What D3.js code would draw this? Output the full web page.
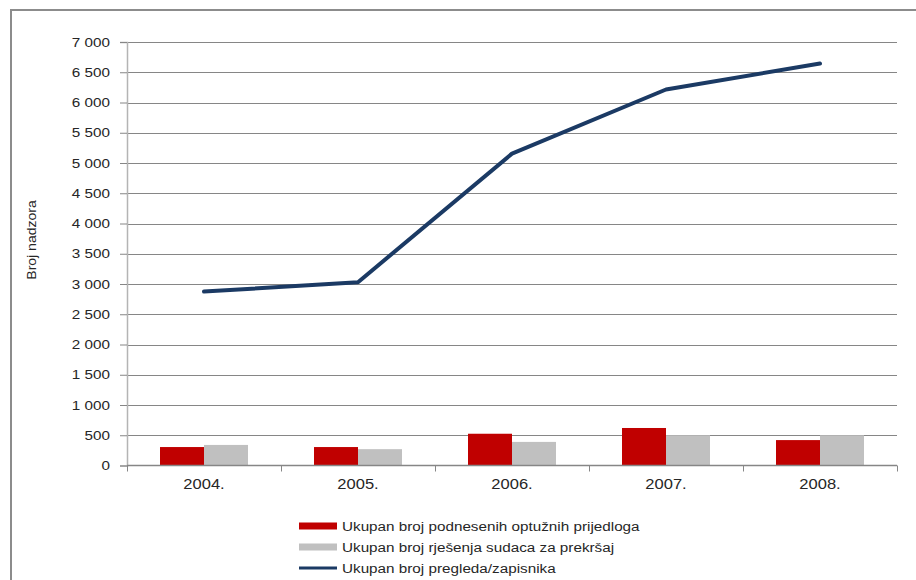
<!DOCTYPE html>
<html>
<head>
<meta charset="utf-8">
<script src="https://cdn.jsdelivr.net/npm/d3@7"></script>
<style>
  html, body { margin: 0; padding: 0; background: #fff; }
  svg { display: block; }
  text { font-family: "Liberation Sans", Arial, sans-serif; fill: #262626; }
</style>
</head>
<body>
<svg id="chart" width="916" height="580"></svg>
<script>
// ---- data ----
const categories = ["2004.", "2005.", "2006.", "2007.", "2008."];
const optuzniPrijedlozi = [305, 305, 525, 620, 420];
const rjesenjaSudaca = [340, 270, 390, 500, 500];
const preglediZapisnici = [2875, 3030, 5155, 6215, 6645];
const yTicks = [0, 500, 1000, 1500, 2000, 2500, 3000, 3500, 4000, 4500, 5000, 5500, 6000, 6500, 7000];
const seriesNames = [
  "Ukupan broj podnesenih optužnih prijedloga",
  "Ukupan broj rješenja sudaca za prekršaj",
  "Ukupan broj pregleda/zapisnika"
];
const yTitle = "Broj nadzora";

// ---- layout ----
const svg = d3.select("#chart");
const plotLeft = 127, plotRight = 897, plotTop = 42, plotBottom = 465.5;
const colors = { red: "#C00000", gray: "#C0C0C0", navy: "#1B3A64", grid: "#868686" };

const x = d3.scaleBand().domain(categories).range([plotLeft, plotRight]).paddingInner(0.4286).paddingOuter(0.2143);
const xSub = d3.scaleBand().domain(["a", "b"]).range([0, x.bandwidth()]);
const y = d3.scaleLinear().domain([0, 7000]).range([plotBottom, plotTop]);

const fmt = d3.formatLocale({ decimal: ",", thousands: " ", grouping: [3], currency: ["", ""] }).format(",d");

// stretch helper: scale text horizontally by a factor
function stretch(sel, factor) {
  sel.each(function () {
    const w = this.getComputedTextLength();
    this.setAttribute("textLength", (w * factor).toFixed(2));
    this.setAttribute("lengthAdjust", "spacingAndGlyphs");
  });
}

// outer frame
svg.append("path")
  .attr("d", "M11,580 L11,10 L916,10")
  .attr("fill", "none").attr("stroke", "#8c8c8c").attr("stroke-width", 2);

// gridlines
svg.append("g").selectAll("line").data(yTicks.filter(d => d > 0)).join("line")
  .attr("x1", plotLeft).attr("x2", plotRight)
  .attr("y1", d => Math.round(y(d)) + 0.5).attr("y2", d => Math.round(y(d)) + 0.5)
  .attr("stroke", colors.grid).attr("stroke-width", 1);

// y axis
const yAxis = svg.append("g").attr("transform", `translate(${plotLeft},0)`)
  .call(d3.axisLeft(y).tickValues(yTicks).tickFormat(fmt).tickSize(7).tickPadding(10));
yAxis.select(".domain").attr("stroke", "#b4b4b4").attr("stroke-width", 1.5);
yAxis.selectAll(".tick line").attr("stroke", colors.grid);
yAxis.selectAll(".tick text")
  .attr("font-size", 12.5).attr("font-family", "Liberation Sans, Arial, sans-serif").attr("fill", "#262626");
yAxis.selectAll(".tick text").call(stretch, 1.22);

// bars
const barG = svg.append("g");
barG.selectAll("rect.a").data(categories).join("rect").attr("class", "a")
  .attr("x", (d) => x(d) + xSub("a"))
  .attr("width", xSub.bandwidth())
  .attr("y", (d, i) => y(optuzniPrijedlozi[i]))
  .attr("height", (d, i) => y(0) - y(optuzniPrijedlozi[i]))
  .attr("fill", colors.red);
barG.selectAll("rect.b").data(categories).join("rect").attr("class", "b")
  .attr("x", (d) => x(d) + xSub("b"))
  .attr("width", xSub.bandwidth())
  .attr("y", (d, i) => y(rjesenjaSudaca[i]))
  .attr("height", (d, i) => y(0) - y(rjesenjaSudaca[i]))
  .attr("fill", colors.gray);

// x axis
const step = x.step();
const boundaries = d3.range(categories.length + 1).map(i => plotLeft + i * step);
const xAxisG = svg.append("g");
xAxisG.append("line").attr("x1", plotLeft).attr("x2", plotRight).attr("y1", plotBottom).attr("y2", plotBottom)
  .attr("stroke", colors.grid).attr("stroke-width", 1.5);
xAxisG.selectAll("line.t").data(boundaries).join("line").attr("class", "t")
  .attr("x1", d => Math.round(d) + 0.5).attr("x2", d => Math.round(d) + 0.5)
  .attr("y1", plotBottom).attr("y2", plotBottom + 6)
  .attr("stroke", colors.grid).attr("stroke-width", 1);
xAxisG.selectAll("text").data(categories).join("text")
  .attr("x", d => x(d) + x.bandwidth() / 2)
  .attr("y", 489)
  .attr("text-anchor", "middle")
  .attr("font-size", 14)
  .text(d => d)
  .call(stretch, 1.18);

// line
const line = d3.line()
  .x((d, i) => x(categories[i]) + x.bandwidth() / 2)
  .y(d => y(d));
svg.append("path").datum(preglediZapisnici)
  .attr("d", line)
  .attr("fill", "none")
  .attr("stroke", colors.navy)
  .attr("stroke-width", 4)
  .attr("stroke-linejoin", "round")
  .attr("stroke-linecap", "round");

// y title
svg.append("text")
  .attr("transform", "translate(36,240) rotate(-90)")
  .attr("text-anchor", "middle")
  .attr("font-size", 12.5)
  .text(yTitle)
  .call(stretch, 1.12);

// legend
const legendG = svg.append("g");
const legRows = [526, 547, 568];
legendG.append("rect").attr("x", 299).attr("y", legRows[0] - 3.5).attr("width", 38).attr("height", 7).attr("fill", colors.red);
legendG.append("rect").attr("x", 299).attr("y", legRows[1] - 3.5).attr("width", 38).attr("height", 7).attr("fill", colors.gray);
legendG.append("line").attr("x1", 299).attr("x2", 337).attr("y1", legRows[2]).attr("y2", legRows[2])
  .attr("stroke", colors.navy).attr("stroke-width", 3);
legendG.selectAll("text").data(seriesNames).join("text")
  .attr("x", 342)
  .attr("y", (d, i) => legRows[i] + 4.5)
  .attr("font-size", 12.5)
  .text(d => d)
  .call(stretch, 1.22);
</script>
</body>
</html>
